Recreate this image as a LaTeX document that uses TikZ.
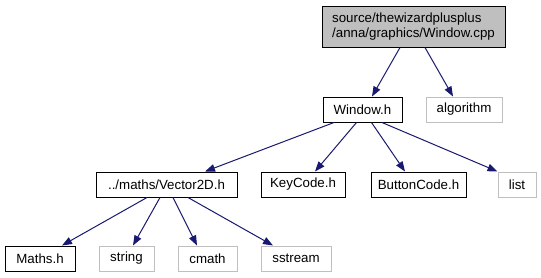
\documentclass[tikz,border=0pt]{standalone}
\usepackage{fontspec}
\setmainfont{Liberation Sans}
\usetikzlibrary{arrows.meta,calc}
\definecolor{edgeblue}{HTML}{191970}
\definecolor{sysgray}{HTML}{BFBFBF}
\tikzset{
  filebox/.style={draw=black, line width=1pt, fill=white, inner sep=0pt,
    minimum height=25pt, font=\fontsize{13.3}{15.5}\selectfont},
  sysbox/.style={filebox, draw=sysgray},
  rootbox/.style={filebox, fill=sysgray, minimum height=41pt},
  dep/.style={draw=edgeblue, line width=1pt,
    -{Triangle[length=10pt,width=7.5pt]}}
}
\begin{document}
\begin{tikzpicture}[x=1pt,y=-1pt]
\useasboundingbox (0,0) rectangle (541,277);

% root file
\node[rootbox, minimum width=183pt, align=left] (top) at (413.5,26.5)
  {source/thewizardplusplus\\/anna/graphics/Window.cpp};

% first level
\node[filebox, minimum width=79pt] (win) at (362.5,109.5) {Window.h};
\node[sysbox, minimum width=76pt] (alg) at (464,109.5) {algorithm};

% second level
\node[filebox, minimum width=141pt] (vec) at (166.5,184.5) {../maths/Vector2D.h};
\node[filebox, minimum width=84pt] (key) at (303,184.5) {KeyCode.h};
\node[filebox, minimum width=95pt] (btn) at (418.5,184.5) {ButtonCode.h};
\node[sysbox, minimum width=38pt] (lst) at (517,184.5) {list};

% third level
\node[filebox, minimum width=70pt] (math) at (40,258.5) {Maths.h};
\node[sysbox, minimum width=55pt] (str) at (126.5,258.5) {string};
\node[sysbox, minimum width=59pt] (cm) at (207.5,258.5) {cmath};
\node[sysbox, minimum width=70pt] (ss) at (296,258.5) {sstream};

% include edges
\draw[dep] ($(top.south)+(-13.5,0)$) -- ($(win.north)+(9.5,0)$);
\draw[dep] ($(top.south)+(11.5,0)$) -- ($(alg.north)+(-11,0)$);

\draw[dep] ($(win.south)+(-28.5,0)$) -- ($(vec.north)+(38.5,0)$);
\draw[dep] ($(win.south)+(-6,0)$) -- ($(key.north)+(12,0)$);
\draw[dep] ($(win.south)+(9,0)$) -- ($(btn.north)+(-13.5,0)$);
\draw[dep] ($(win.south)+(19.5,0)$) -- (lst.north west);

\draw[dep] ($(vec.south)+(-19.5,0)$) -- ($(math.north)+(22,0)$);
\draw[dep] ($(vec.south)+(-6.5,0)$) -- ($(str.north)+(6.5,0)$);
\draw[dep] ($(vec.south)+(6.5,0)$) -- ($(cm.north)+(-10.5,0)$);
\draw[dep] ($(vec.south)+(21.5,0)$) -- ($(ss.north)+(-23,0)$);
\end{tikzpicture}
\end{document}
